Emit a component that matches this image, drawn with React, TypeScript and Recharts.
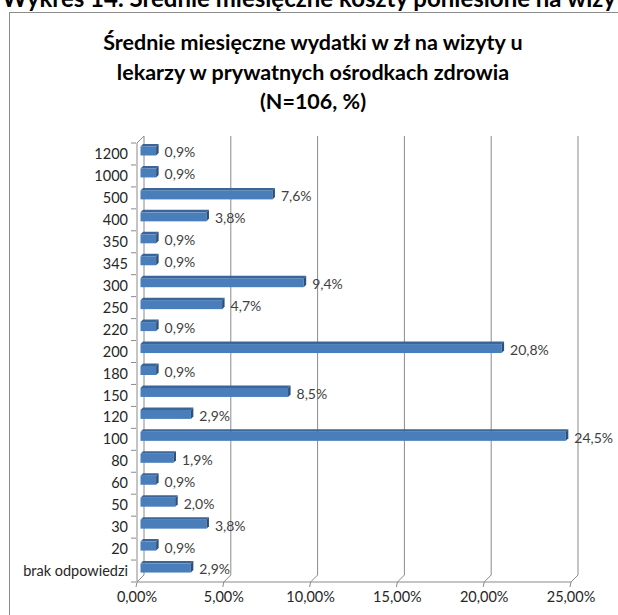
import { BarChart, Bar, XAxis, YAxis, CartesianGrid, LabelList } from 'recharts';

const categories = ['1200', '1000', '500', '400', '350', '345', '300', '250', '220', '200', '180', '150', '120', '100', '80', '60', '50', '30', '20', 'brak odpowiedzi'];
const shares = [0.9, 0.9, 7.6, 3.8, 0.9, 0.9, 9.4, 4.7, 0.9, 20.8, 0.9, 8.5, 2.9, 24.5, 1.9, 0.9, 2.0, 3.8, 0.9, 2.9];
const xTicks = [0, 5, 10, 15, 20, 25];

const data = categories.map((cat, i) => ({ cat, v: shares[i] }));

const FONT = 'Lato, "Open Sans", sans-serif';
const GRID = '#8a8a8a';
const DEPTH = 7; // 3d wall offset
const TOP = 143;
const PLOT_H = 439;
const BAND = PLOT_H / categories.length;

const fmtPct = (v: number) => v.toFixed(1).replace('.', ',') + '%';
const fmtTick = (v: number) => v.toFixed(2).replace('.', ',') + '%';

const Bar3D = (props: any) => {
  const { x, y, width, height } = props;
  const fx = x + 3.5;
  const fy = y - 2.5;
  const d = 2.5;
  return (
    <g>
      <polygon points={`${fx},${fy} ${fx + d},${fy - d} ${fx + width + d},${fy - d} ${fx + width},${fy}`} fill="#3b6497" />
      <rect x={fx} y={fy} width={width} height={height} fill="#4a7ebb" />
      <polygon points={`${fx + width},${fy} ${fx + width + d},${fy - d} ${fx + width + d},${fy + height - d} ${fx + width},${fy + height}`} fill="#2c4f7c" />
    </g>
  );
};

const ValueLabel = (props: any) => {
  const { x, y, width, height, value } = props;
  return (
    <text x={x + 3.5 + width + 2.5 + 6} y={y + height / 2 - 1} dy="0.35em" fontSize={14} fontFamily={FONT} fill="#404040">
      {fmtPct(value)}
    </text>
  );
};

const YTick = (props: any) => {
  const { x, y, payload, index } = props;
  const ax = x + 7;
  return (
    <g>
      <text x={x - 1} y={y} dy="0.35em" textAnchor="end" fontSize={14.5} fontFamily={FONT} fill="#262626">
        {payload.value}
      </text>
      {index === 0 && <line x1={ax - 5} y1={y - BAND / 2} x2={ax} y2={y - BAND / 2} stroke={GRID} />}
      <line x1={ax - 5} y1={y + BAND / 2} x2={ax} y2={y + BAND / 2} stroke={GRID} />
    </g>
  );
};

const XTick = (props: any) => {
  const { x, y, payload } = props;
  return (
    <g>
      <line x1={x} y1={y - 8} x2={x - 1} y2={y - 3} stroke={GRID} />
      <text x={x} y={y + 12} textAnchor="middle" fontSize={14.5} fontFamily={FONT} fill="#262626">
        {fmtTick(payload.value)}
      </text>
    </g>
  );
};

const GridLine = (props: any) => {
  const { x1, y1, x2, y2, index } = props;
  return (
    <g>
      <line x1={x1 + DEPTH} y1={y1 - DEPTH} x2={x2 + DEPTH} y2={y2 - DEPTH} stroke={GRID} />
      <line x1={x2} y1={y2} x2={x2 + DEPTH} y2={y2 - DEPTH} stroke={GRID} />
      {index === 0 && <line x1={x1} y1={y1} x2={x1 + DEPTH} y2={y1 - DEPTH} stroke={GRID} />}
    </g>
  );
};

const App = () => {
  return (
    <div style={{ position: 'absolute', left: 0, top: 0, width: 618, height: 615, overflow: 'hidden', background: '#fff' }}>
      <div style={{ position: 'absolute', left: 2, top: -17, fontFamily: FONT, fontWeight: 700, fontSize: 24, whiteSpace: 'nowrap', color: '#000' }}>
        Wykres 14. Średnie miesięczne koszty poniesione na wizyty u lekarzy
      </div>
      <div style={{ position: 'absolute', left: 9, top: 12, width: 700, height: 700, border: '1px solid #8c8c8c' }} />
      <div style={{ position: 'absolute', left: 0, top: 28, width: 626, textAlign: 'center', fontFamily: FONT, fontWeight: 700, fontSize: 21.5, lineHeight: '29.5px', color: '#000' }}>
        Średnie miesięczne wydatki w zł na wizyty u<br />
        lekarzy w prywatnych ośrodkach zdrowia<br />
        (N=106, %)
      </div>
      <div style={{ position: 'absolute', left: 0, top: 0 }}>
        <BarChart width={618} height={615} data={data} layout="vertical" margin={{ top: TOP, right: 47, bottom: 3, left: 0 }}>
          <CartesianGrid horizontal={false} vertical={GridLine} />
          <XAxis
            type="number"
            domain={[0, 25]}
            ticks={xTicks}
            height={30}
            tickLine={false}
            axisLine={{ stroke: GRID }}
            tick={XTick}
          />
          <YAxis
            type="category"
            dataKey="cat"
            width={137}
            tickLine={false}
            axisLine={{ stroke: GRID }}
            tick={YTick}
            interval={0}
          />
          <Bar dataKey="v" barSize={9} shape={Bar3D} isAnimationActive={false}>
            <LabelList dataKey="v" content={ValueLabel} />
          </Bar>
        </BarChart>
      </div>
    </div>
  );
};

export default App;
